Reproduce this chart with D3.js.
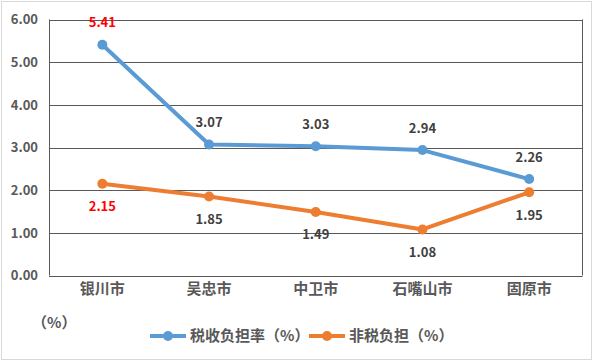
<!DOCTYPE html>
<html>
<head>
<meta charset="utf-8">
<script src="https://cdn.jsdelivr.net/npm/d3@7"></script>
<style>
  body { margin: 0; background: #fff; }
  svg { display: block; font-family: "Noto Sans CJK SC", "Microsoft YaHei", sans-serif; }
</style>
</head>
<body>
<svg></svg>
<script>
// 数据
var cities = ["银川市", "吴忠市", "中卫市", "石嘴山市", "固原市"];
var taxRate = [5.41, 3.07, 3.03, 2.94, 2.26];
var nonTax = [2.15, 1.85, 1.49, 1.08, 1.95];
var yTicks = [0, 1, 2, 3, 4, 5, 6];
var seriesNames = ["税收负担率（%）", "非税负担（%）"];

var svgWidth = 602, svgHeight = 362;
var margin = { left: 49, right: 19.5, top: 19.5, bottom: 86.5 };

var svg = d3.select("svg")
    .attr("width", svgWidth)
    .attr("height", svgHeight);

// 外框
svg.append("rect")
    .attr("x", 1.5).attr("y", 1.5)
    .attr("width", 590).attr("height", 358)
    .attr("fill", "#fff")
    .attr("stroke", "#d9d9d9");

var xScale = d3.scaleBand()
    .domain(cities)
    .range([margin.left, svgWidth - margin.right]);

var yScale = d3.scaleLinear()
    .domain([0, 6])
    .range([svgHeight - margin.bottom, margin.top]);

// 网格线
svg.append("g")
    .selectAll("line")
    .data(yTicks)
    .enter()
    .append("line")
    .attr("x1", margin.left)
    .attr("x2", svgWidth - margin.right)
    .attr("y1", function (d) { return Math.round(yScale(d)) + 0.5; })
    .attr("y2", function (d) { return Math.round(yScale(d)) + 0.5; })
    .attr("stroke", "#595959")
    .attr("stroke-width", 1);

// 左右边线
svg.append("line")
    .attr("x1", margin.left + 0.5).attr("x2", margin.left + 0.5)
    .attr("y1", yScale(6)).attr("y2", yScale(0))
    .attr("stroke", "#595959");
svg.append("line")
    .attr("x1", svgWidth - margin.right).attr("x2", svgWidth - margin.right)
    .attr("y1", yScale(6)).attr("y2", yScale(0))
    .attr("stroke", "#595959");

// Y轴
var eje_y = d3.axisLeft(yScale)
    .tickValues(yTicks)
    .tickFormat(d3.format(".2f"))
    .tickSize(0)
    .tickPadding(11);
var gy = svg.append("g")
    .attr("transform", "translate(" + margin.left + ",0)")
    .call(eje_y);
gy.select(".domain").remove();
gy.selectAll("text")
    .attr("fill", "#595959")
    .attr("font-size", 13)
    .attr("font-weight", "bold")
    .style("font-family", "'Noto Sans CJK SC', sans-serif");

// X轴
var eje_x = d3.axisBottom(xScale).tickSize(0).tickPadding(8);
var gx = svg.append("g")
    .attr("transform", "translate(0," + yScale(0) + ")")
    .call(eje_x);
gx.select(".domain").remove();
gx.selectAll("text")
    .attr("fill", "#595959")
    .attr("font-size", 15)
    .attr("font-weight", "bold")
    .style("font-family", "'Noto Sans CJK SC', sans-serif");

var cx = function (d, i) { return xScale(cities[i]) + xScale.bandwidth() / 2; };

var series = [
    { name: seriesNames[0], values: taxRate, color: "#5B9BD5", dy: -22 },
    { name: seriesNames[1], values: nonTax, color: "#ED7D31", dy: 23 }
];

var line = d3.line()
    .x(cx)
    .y(function (d) { return yScale(d); });

series.forEach(function (s) {
    svg.append("path")
        .datum(s.values)
        .attr("d", line)
        .attr("fill", "none")
        .attr("stroke", s.color)
        .attr("stroke-width", 4)
        .attr("stroke-linejoin", "round");

    svg.append("g")
        .selectAll("circle")
        .data(s.values)
        .enter()
        .append("circle")
        .attr("cx", cx)
        .attr("cy", function (d) { return yScale(d); })
        .attr("r", 5)
        .attr("fill", s.color);

    svg.append("g")
        .selectAll("text")
        .data(s.values)
        .enter()
        .append("text")
        .attr("x", cx)
        .attr("y", function (d) { return yScale(d) + s.dy; })
        .attr("dy", "0.35em")
        .attr("text-anchor", "middle")
        .attr("font-size", 13)
        .attr("font-weight", "bold")
        .attr("fill", function (d, i) { return i === 0 ? "#ff0000" : "#404040"; })
        .text(function (d) { return d.toFixed(2); });
});

// 单位
svg.append("text")
    .attr("x", 32).attr("y", 323)
    .attr("dy", "0.35em")
    .attr("font-size", 15)
    .attr("font-weight", "bold")
    .attr("fill", "#595959")
    .text("（%）");

// 图例
var legendX = [150, 309];
series.forEach(function (s, i) {
    var g = svg.append("g").attr("transform", "translate(" + legendX[i] + ",336)");
    g.append("line")
        .attr("x1", 0).attr("x2", 36)
        .attr("stroke", s.color)
        .attr("stroke-width", 4);
    g.append("circle")
        .attr("cx", 18).attr("r", 5)
        .attr("fill", s.color);
    g.append("text")
        .attr("x", 40)
        .attr("dy", "0.35em")
        .attr("font-size", 15)
        .attr("font-weight", "bold")
        .attr("fill", "#595959")
        .text(s.name);
});
</script>
</body>
</html>
